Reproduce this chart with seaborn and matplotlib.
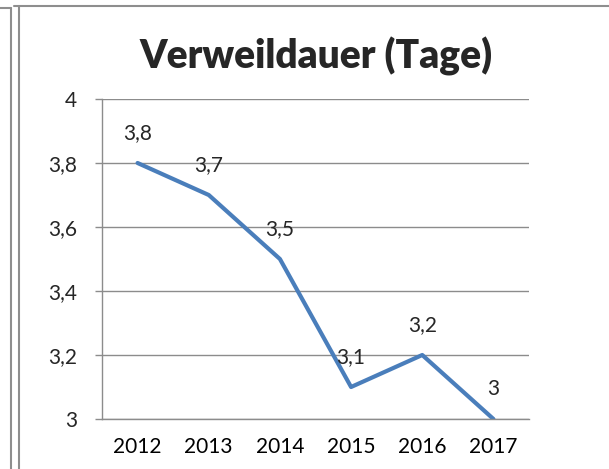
import matplotlib
matplotlib.use("Agg")
import matplotlib.pyplot as plt
from matplotlib.lines import Line2D
from matplotlib.ticker import FuncFormatter, FixedLocator
import seaborn as sns
import pandas as pd
import numpy as np

years = ["2012", "2013", "2014", "2015", "2016", "2017"]
verweildauer = [3.8, 3.7, 3.5, 3.1, 3.2, 3.0]
y_ticks = [3.0, 3.2, 3.4, 3.6, 3.8, 4.0]
title = "Verweildauer (Tage)"

df = pd.DataFrame({"Jahr": years, "Tage": verweildauer})

sns.set_style("white")
plt.rcParams["font.family"] = ["Lato", "DejaVu Sans"]

W, H = 609, 469
fig = plt.figure(figsize=(W / 100, H / 100), dpi=100)
ax = fig.add_axes([102 / W, 1 - 419 / H, (529 - 102) / W, (419 - 99) / H])

grid_col = "#8c8c8c"
line_col = "#4a7ebb"

sns.lineplot(data=df, x="Jahr", y="Tage", ax=ax, color=line_col, linewidth=3,
             sort=False)

ax.set_xlim(-0.5, len(years) - 0.5)
ax.set_ylim(3.0, 4.0)
ax.set_yticks(y_ticks)
ax.yaxis.set_major_formatter(FuncFormatter(lambda v, p: f"{v:g}".replace(".", ",")))
ax.yaxis.grid(True, color=grid_col, linewidth=1)
ax.set_axisbelow(True)

# x: labels centered, tick marks on category boundaries
ax.set_xticks(range(len(years)))
ax.set_xticklabels(years)
ax.xaxis.set_minor_locator(FixedLocator(np.arange(-0.5, len(years), 1.0)))
ax.tick_params(axis="x", which="major", length=0, pad=13, labelsize=15, colors="#000000")
ax.tick_params(axis="x", which="minor", length=8, width=1, color=grid_col, direction="out")
ax.tick_params(axis="y", length=5, width=1, color=grid_col, pad=13, labelsize=15,
               direction="out", left=True)

for s in ["top", "right"]:
    ax.spines[s].set_visible(False)
for s in ["left", "bottom"]:
    ax.spines[s].set_color(grid_col)
    ax.spines[s].set_linewidth(1)

ax.set_xlabel("")
ax.set_ylabel("")

for i, v in enumerate(verweildauer):
    ax.annotate(f"{v:g}".replace(".", ","), (i, v), xytext=(0, 30),
                textcoords="offset pixels", ha="center", va="center", fontsize=15)

fig.text(316 / W, 1 - 56 / H, title, ha="center", va="center",
         fontsize=28, fontweight="heavy")

# frame lines of the surrounding sheet
frame = "#8e8e8e"
fig.add_artist(Line2D([10.5 / W, 10.5 / W], [0, 1 - 8 / H], color=frame, lw=1.5))
fig.add_artist(Line2D([0, 10.5 / W], [1 - 8 / H, 1 - 8 / H], color=frame, lw=1.5))
fig.add_artist(Line2D([19 / W, 19 / W], [0, 1 - 6 / H], color=frame, lw=1.5))
fig.add_artist(Line2D([14 / W, 1], [1 - 6 / H, 1 - 6 / H], color=frame, lw=1.5))

fig.savefig("out.png", dpi=100)
